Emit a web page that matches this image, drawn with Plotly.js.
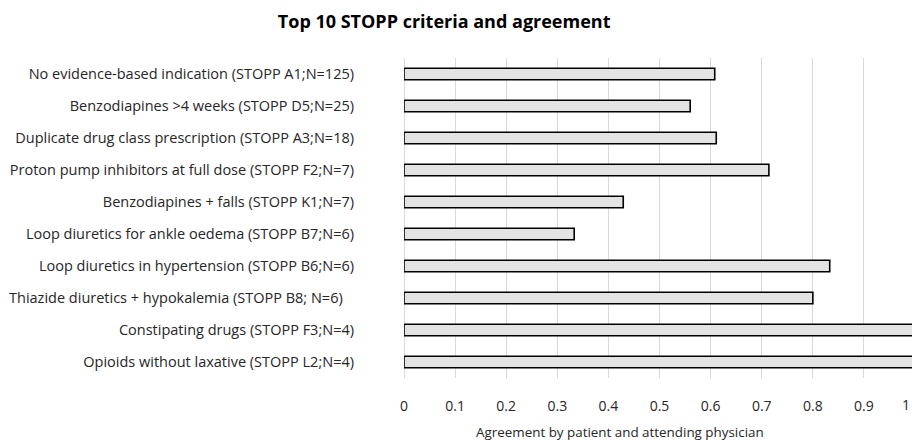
<!DOCTYPE html>
<html>
<head>
<meta charset="utf-8">
<script src="https://cdn.plot.ly/plotly-3.0.1.min.js"></script>
<style>html,body{margin:0;padding:0;background:#fff;}#chart{width:912px;height:440px;}</style>
</head>
<body>
<div id="chart"></div>
<script>
var categories = [
  "No evidence-based indication (STOPP A1;N=125)",
  "Benzodiapines >4 weeks (STOPP D5;N=25)",
  "Duplicate drug class prescription (STOPP A3;N=18)",
  "Proton pump inhibitors at full dose (STOPP F2;N=7)",
  "Benzodiapines + falls (STOPP K1;N=7)",
  "Loop diuretics for ankle oedema (STOPP B7;N=6)",
  "Loop diuretics in hypertension (STOPP B6;N=6)",
  "Thiazide diuretics + hypokalemia (STOPP B8; N=6)\u00a0\u00a0\u00a0",
  "Constipating drugs (STOPP F3;N=4)",
  "Opioids without laxative (STOPP L2;N=4)"
];
var agreement = [0.608, 0.56, 0.611, 0.714, 0.429, 0.333, 0.833, 0.8, 1.0, 1.0];
var tickValues = [0, 0.1, 0.2, 0.3, 0.4, 0.5, 0.6, 0.7, 0.8, 0.9];
var tickLabels = ["0", "0.1", "0.2", "0.3", "0.4", "0.5", "0.6", "0.7", "0.8", "0.9"];
var titleText = "Top 10 STOPP criteria and agreement";
var xTitleText = "Agreement by patient and attending physician";

var FONT = "'Open Sans', Lato, sans-serif";

var trace = {
  type: "bar",
  orientation: "h",
  x: agreement,
  y: categories,
  width: 0.36,
  marker: {color: "#e3e3e3", line: {color: "#000000", width: 1.6}},
  hoverinfo: "x+y"
};

var layout = {
  width: 912,
  height: 440,
  margin: {l: 404, r: 0, t: 58, b: 62},
  paper_bgcolor: "#ffffff",
  plot_bgcolor: "#ffffff",
  showlegend: false,
  font: {family: FONT, size: 13, color: "#262626"},
  title: {
    text: "<b>" + titleText + "</b>",
    font: {family: FONT, size: 18, color: "#000000"},
    x: 0.487, xref: "container", xanchor: "center",
    y: 0.95, yref: "container", yanchor: "middle"
  },
  xaxis: {
    range: [0, 0.994],
    tickvals: tickValues,
    ticktext: tickLabels,
    showgrid: true,
    gridcolor: "#d9d9d9",
    gridwidth: 1,
    zeroline: true,
    zerolinecolor: "#d9d9d9",
    zerolinewidth: 1,
    showline: false,
    ticks: "outside",
    ticklen: 15,
    tickcolor: "rgba(0,0,0,0)",
    tickfont: {family: FONT, size: 14, color: "#262626"},
    fixedrange: true
  },
  yaxis: {
    autorange: "reversed",
    type: "category",
    showgrid: false,
    zeroline: false,
    showline: false,
    ticks: "",
    ticklabelstandoff: 49,
    tickfont: {family: FONT, size: 14.5, color: "#262626"},
    fixedrange: true
  },
  annotations: [
    {text: "1", xref: "paper", yref: "paper", x: 1, y: 0, xanchor: "right", yanchor: "top",
     yshift: -15, showarrow: false, font: {family: FONT, size: 14, color: "#262626"}},
    {text: xTitleText, xref: "paper", yref: "paper", x: 0.425, y: 0, xanchor: "center", yanchor: "middle",
     yshift: -54, showarrow: false, font: {family: FONT, size: 13.4, color: "#262626"}}
  ]
};

Plotly.newPlot("chart", [trace], layout, {displayModeBar: false, staticPlot: true});
</script>
</body>
</html>
